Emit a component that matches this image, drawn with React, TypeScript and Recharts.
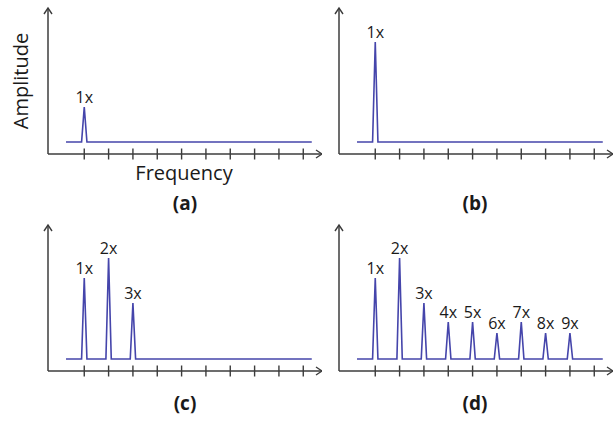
import { Line, LineChart, XAxis, YAxis } from "recharts";

// harmonic amplitudes per panel (axis units, baseline is the noise floor)
const harmonics = [1, 2, 3, 4, 5, 6, 7, 8, 9];
const peaksA = [47];
const peaksB = [112];
const peaksC = [93, 113, 68];
const peaksD = [93, 113, 68, 49, 49, 38, 49, 38, 38];
const noiseFloor = 12;
const freqTicks = [1, 2, 3, 4, 5, 6, 7, 8, 9, 10];
const peakLabels = ["1x", "2x", "3x", "4x", "5x", "6x", "7x", "8x", "9x"];

const lineColor = "#4545ab";
const axisColor = "#3c3c3c";
const font = "'Open Sans', 'DejaVu Sans', sans-serif";

const W = 322;
const H = 200;
// axes take 1px each, so plot area is x 48..322, y 8..154
const margin = { top: 8, right: 0, bottom: 45, left: 47 };

function buildSpectrum(peaks: number[]) {
  const rows: { f: number; a: number; name?: string }[] = [
    { f: 0.25, a: noiseFloor },
  ];
  peaks.forEach((p, i) => {
    const k = harmonics[i];
    rows.push({ f: k - 0.11, a: noiseFloor });
    rows.push({ f: k, a: p, name: peakLabels[i] });
    rows.push({ f: k + 0.11, a: noiseFloor });
  });
  rows.push({ f: 10.35, a: noiseFloor });
  return rows;
}

const CrossTick = (props: any) => {
  const { x, y } = props;
  return (
    <line
      x1={x}
      x2={x}
      y1={y - 5.5}
      y2={y + 5.5}
      stroke={axisColor}
      strokeWidth={1.4}
    />
  );
};

function Panel({
  peaks,
  left,
  top,
  id,
}: {
  peaks: number[];
  left: number;
  top: number;
  id: string;
}) {
  const data = buildSpectrum(peaks);

  const renderLabel = (p: any) => {
    const row = data[p.index];
    if (!row || !row.name) return null;
    return (
      <text
        key={`lbl-${p.index}`}
        x={p.x}
        y={p.y - 4}
        textAnchor="middle"
        fontSize={16}
        fontFamily={font}
        fill="#1a1a1a"
      >
        {row.name}
      </text>
    );
  };

  return (
    <div style={{ position: "absolute", left, top, width: W, height: H }}>
      <LineChart width={W} height={H} data={data} margin={margin}>
        <defs>
          <marker
            id={`arrow-${id}`}
            markerUnits="userSpaceOnUse"
            markerWidth={12}
            markerHeight={12}
            viewBox="0 0 12 12"
            refX={10}
            refY={6}
            orient="auto-start-reverse"
          >
            <path
              d="M4,2 L10,6 L4,10"
              fill="none"
              stroke={axisColor}
              strokeWidth={1.4}
            />
          </marker>
        </defs>

        <XAxis
          dataKey="f"
          type="number"
          domain={[-0.49, 10.77]}
          ticks={freqTicks}
          interval={0}
          allowDataOverflow
          height={1}
          tickSize={0}
          tickMargin={0}
          tick={<CrossTick />}
          axisLine={{
            stroke: axisColor,
            strokeWidth: 1.5,
            markerEnd: `url(#arrow-${id})`,
          }}
        />

        <YAxis
          type="number"
          domain={[0, 146]}
          width={1}
          tick={false}
          tickLine={false}
          axisLine={{
            stroke: axisColor,
            strokeWidth: 1.5,
            markerStart: `url(#arrow-${id})`,
          }}
        />

        <Line
          type="linear"
          dataKey="a"
          stroke={lineColor}
          strokeWidth={1.6}
          dot={false}
          label={renderLabel}
          isAnimationActive={false}
        />
      </LineChart>
    </div>
  );
}

export default function App() {
  return (
    <div
      style={{
        position: "absolute",
        left: 0,
        top: 0,
        width: 613,
        height: 422,
        background: "#fff",
        overflow: "hidden",
      }}
    >
      <Panel peaks={peaksA} left={0} top={0} id="a" />
      <Panel peaks={peaksB} left={291} top={0} id="b" />
      <Panel peaks={peaksC} left={0} top={217} id="c" />
      <Panel peaks={peaksD} left={291} top={217} id="d" />

      <svg
        width={613}
        height={422}
        style={{ position: "absolute", left: 0, top: 0, pointerEvents: "none" }}
      >
        <text
          x={0}
          y={0}
          transform="translate(28 81) rotate(-90)"
          textAnchor="middle"
          fontSize={20}
          fontFamily={font}
          fill="#1a1a1a"
        >
          Amplitude
        </text>
        <text
          x={184}
          y={180}
          textAnchor="middle"
          fontSize={20}
          fontFamily={font}
          fill="#1a1a1a"
        >
          Frequency
        </text>
        {[
          ["(a)", 185, 210],
          ["(b)", 475, 210],
          ["(c)", 185, 410],
          ["(d)", 475, 410],
        ].map(([t, x, y]) => (
          <text
            key={t as string}
            x={x as number}
            y={y as number}
            textAnchor="middle"
            fontSize={19}
            fontWeight="bold"
            fontFamily={font}
            fill="#1a1a1a"
          >
            {t}
          </text>
        ))}
      </svg>
    </div>
  );
}
